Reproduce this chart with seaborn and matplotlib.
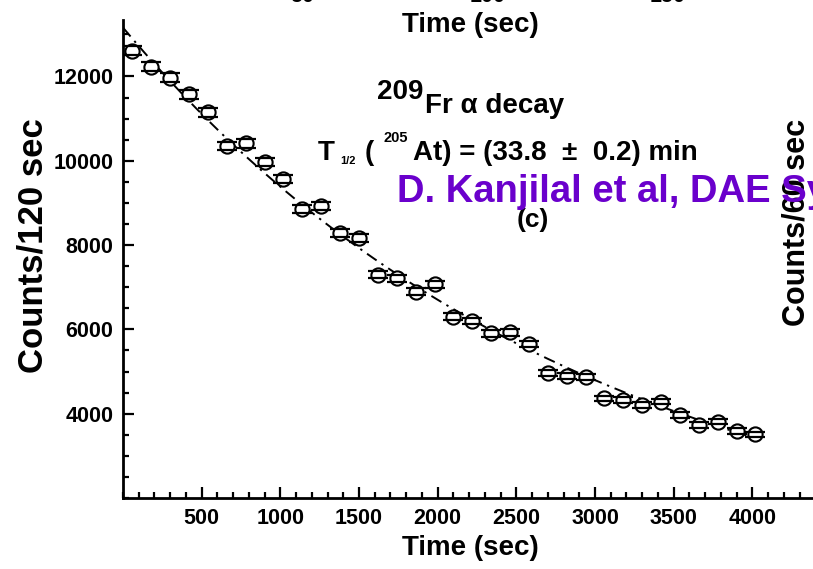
import numpy as np
import matplotlib
matplotlib.use("Agg")
import matplotlib.pyplot as plt
from matplotlib.ticker import MultipleLocator
import seaborn as sns

# ---------------- data ----------------
time_sec = [60, 180, 300, 420, 540, 660, 780, 900, 1020, 1140, 1260, 1380,
            1500, 1620, 1740, 1860, 1980, 2100, 2220, 2340, 2460, 2580,
            2700, 2820, 2940, 3060, 3180, 3300, 3420, 3540, 3660, 3780,
            3900, 4020]
counts = [12610, 12231, 11970, 11576, 11156, 10349, 10413, 9977, 9560, 8848,
          8926, 8293, 8174, 7299, 7214, 6893, 7069, 6300, 6198, 5907, 5930,
          5646, 4958, 4894, 4863, 4365, 4325, 4206, 4284, 3969, 3732, 3810,
          3589, 3511]
count_err = [112, 111, 109, 108, 106, 102, 102, 100, 98, 94, 94, 91, 90, 85,
             85, 83, 84, 79, 79, 77, 77, 75, 70, 70, 70, 66, 66, 65, 65, 63,
             61, 62, 60, 59]

x_tick_values = [500, 1000, 1500, 2000, 2500, 3000, 3500, 4000]
x_tick_labels = ["500", "1000", "1500", "2000", "2500", "3000", "3500", "4000"]
y_tick_values = [4000, 6000, 8000, 10000, 12000]
y_tick_labels = ["4000", "6000", "8000", "10000", "12000"]
top_tick_labels = ["50", "100", "150"]

# fitted decay model (shown as dash-dot line)
fit_half_life_min = 33.8
fit_amplitude = 13040
fit_background = 120
fit_t_end = 4050

# ---------------- style ----------------
sns.set_style("ticks")
plt.rcParams["font.family"] = ["Liberation Sans", "DejaVu Sans"]
plt.rcParams["font.weight"] = "bold"
plt.rcParams["axes.labelweight"] = "bold"
plt.rcParams["axes.labelcolor"] = "black"
plt.rcParams["text.color"] = "black"

W, H = 813, 569
fig = plt.figure(figsize=(W / 100, H / 100), dpi=100)
fig.patch.set_facecolor("white")


def px(x, y):
    return x / W, 1 - y / H


# axes frame: x 0 -> 4500 maps to px 123 -> 831 (extends past the right edge)
ax = fig.add_axes([123 / W, (H - 498) / H, (831 - 123) / W, (498 - 20) / H])
ax.set_facecolor("white")

# fit curve
t_fit = np.linspace(0, fit_t_end, 300)
y_fit = fit_background + fit_amplitude * np.exp(-np.log(2) * t_fit / (fit_half_life_min * 60))
sns.lineplot(x=t_fit, y=y_fit, ax=ax, color="black", linewidth=1.4,
             linestyle=(0, (6, 3, 1.2, 3)), estimator=None, zorder=1)

# markers
sns.scatterplot(x=time_sec, y=counts, ax=ax, marker="o", s=105,
                facecolor="white", edgecolor="black", linewidth=1.5, zorder=3)

# error bars
eb = ax.errorbar(time_sec, counts, yerr=count_err, fmt="none", ecolor="black",
                 elinewidth=1.5, capsize=7, capthick=1.6)
for cl in eb[1]:
    cl.set_zorder(4)
for bl in eb[2]:
    bl.set_zorder(2)

ax.set_xlim(0, 4500)
ax.set_ylim(2000, 13340)
ax.set_xticks(x_tick_values, x_tick_labels)
ax.set_yticks(y_tick_values, y_tick_labels)
ax.xaxis.set_minor_locator(MultipleLocator(100))
ax.yaxis.set_minor_locator(MultipleLocator(500))
ax.tick_params(which="both", direction="in", width=1.6, labelsize=15.5,
               pad=7, top=False, right=False, colors="black")
ax.tick_params(which="major", length=8)
ax.tick_params(which="minor", length=4.5)
for lab in ax.get_xticklabels() + ax.get_yticklabels():
    lab.set_fontweight("bold")

for s in ["top", "right"]:
    ax.spines[s].set_visible(False)
for s in ["left", "bottom"]:
    ax.spines[s].set_linewidth(2.0)
    ax.spines[s].set_color("black")

ax.set_xlabel("Time (sec)", fontsize=20, fontweight="bold", va="top", color="black")
ax.xaxis.set_label_coords(0.490, -0.0775)
ax.set_ylabel("Counts/120 sec", fontsize=25, fontweight="bold", color="black")
ax.yaxis.set_label_coords(-0.1045, 0.529)

# ---------------- annotations ----------------
txt = dict(color="black", fontweight="bold", ha="left", va="baseline")
fig.text(*px(377, 99), "209", fontsize=20, **txt)
fig.text(*px(425, 113), "Fr \u03b1 decay", fontsize=20, **txt)

fig.text(*px(318, 160), "T", fontsize=20, **txt)
fig.text(*px(340, 164), "1/2", fontsize=8, **txt)
fig.text(*px(365, 160), "(", fontsize=20, **txt)
fig.text(*px(383, 142), "205", fontsize=10.5, **txt)
fig.text(*px(413, 160), "At) = (33.8  \u00b1  0.2) min", fontsize=20, **txt)

fig.text(*px(533, 227), "(c)", fontsize=19, color="black", fontweight="bold",
         ha="center", va="baseline")

# pieces of the neighbouring panels (cropped in the original image)
fig.text(*px(470, 32), "Time (sec)", fontsize=20, color="black",
         fontweight="bold", ha="center", va="baseline")
for xp, lab in zip([302, 488, 668], top_tick_labels):
    fig.text(*px(xp, 2.5), lab, fontsize=15.5, color="black",
             fontweight="bold", ha="center", va="baseline")
fig.text(*px(796, 222), "Counts/60 sec", fontsize=22, color="black",
         fontweight="bold", rotation=90, ha="center", va="center")

fig.text(*px(397, 202), "D. Kanjilal et al, DAE Sy", fontsize=27.5,
         color="#6a00cc", fontweight="bold", ha="left", va="baseline",
         zorder=10)

fig.savefig("out.png", dpi=100, facecolor="white")
